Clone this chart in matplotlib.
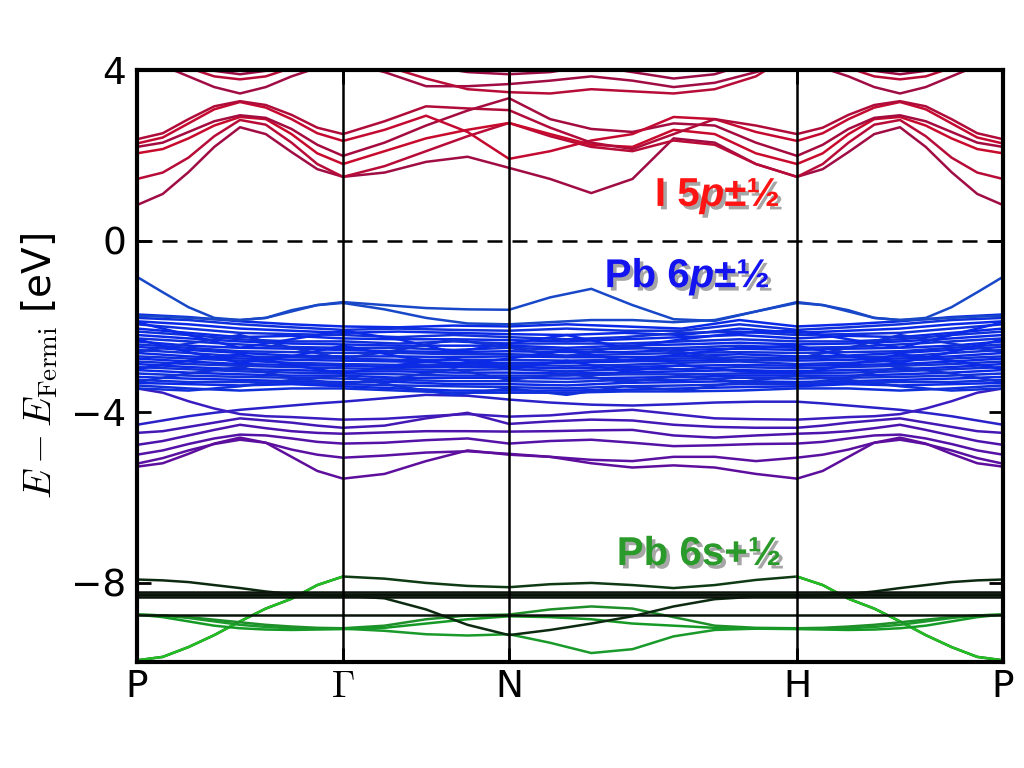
import numpy as np
import matplotlib
matplotlib.use('Agg')
import matplotlib.pyplot as plt
import matplotlib.patheffects as pe

plt.rcParams['mathtext.fontset'] = 'cm'

# high-symmetry points along the path
k_nodes = [0.0, 0.2379, 0.4296, 0.7621, 1.0]
k_labels = ['P', r'$\Gamma$', 'N', 'H', 'P']

# fine bands: P, 7 pts, G | 3 pts | N | 6 pts   (H-P mirrors P-G)
bands_I5p = [
    [0.84, 1.10, 1.61, 2.20, 2.66, 2.50, 2.08, 1.68, 1.50, 1.60, 1.85, 1.97, 1.71, 1.45, 1.12, 1.45, 2.40, 2.30, 1.80],
    [1.45, 1.60, 1.95, 2.45, 2.83, 2.72, 2.30, 1.80, 1.50, 1.75, 2.10, 2.45, 2.76, 2.45, 2.20, 2.10, 2.35, 2.25, 1.80],
    [2.05, 2.15, 2.40, 2.70, 2.90, 2.85, 2.50, 2.05, 1.80, 2.10, 2.40, 2.60, 2.76, 2.50, 2.25, 2.20, 2.60, 2.50, 2.05],
    [2.20, 2.30, 2.55, 2.80, 2.94, 2.88, 2.62, 2.25, 1.99, 2.30, 2.70, 3.05, 3.34, 2.85, 2.62, 2.55, 2.75, 2.70, 2.30],
    [2.28, 2.42, 2.75, 3.08, 3.25, 3.12, 2.85, 2.52, 2.34, 2.60, 2.93, 2.55, 1.92, 2.10, 2.35, 2.50, 2.90, 2.85, 2.55],
    [2.38, 2.52, 2.85, 3.15, 3.27, 3.18, 2.95, 2.65, 2.50, 2.80, 3.15, 3.10, 3.06, 2.65, 2.30, 2.15, 2.50, 2.85, 2.70],
    [4.30, 4.10, 3.85, 3.60, 3.45, 3.60, 3.85, 4.05, 4.20, 3.95, 3.62, 3.62, 3.67, 3.75, 3.85, 3.75, 3.60, 3.70, 3.95],
    [4.60, 4.35, 4.05, 3.85, 3.78, 3.85, 4.05, 4.30, 4.45, 4.10, 3.80, 3.55, 3.48, 3.45, 3.55, 3.50, 3.45, 3.55, 3.85],
    [4.80, 4.55, 4.20, 3.98, 3.90, 3.98, 4.20, 4.50, 4.70, 4.40, 4.10, 3.95, 3.90, 3.95, 4.10, 3.95, 3.80, 3.90, 4.20],
]

bands_Pb6p_top = [
    [-0.84, -1.20, -1.55, -1.80, -1.85, -1.80, -1.62, -1.50, -1.43, -1.50, -1.57, -1.60, -1.61, -1.32, -1.12, -1.50, -1.83, -1.87, -1.65],
    [-1.75, -1.77, -1.80, -1.83, -1.85, -1.80, -1.65, -1.50, -1.45, -1.60, -1.80, -1.93, -1.95, -1.90, -1.85, -1.85, -1.90, -1.85, -1.65],
]

bands_mixed = [
    [-4.30, -4.20, -4.10, -4.02, -3.95, -3.90, -3.85, -3.80, -3.76, -3.68, -3.60, -3.62, -3.71, -3.78, -3.83, -3.85, -3.82, -3.78, -3.76],
    [-3.45, -3.55, -3.75, -3.92, -4.05, -4.10, -4.12, -4.15, -4.18, -4.16, -4.10, -4.05, -4.11, -4.08, -4.00, -3.95, -4.05, -4.15, -4.17],
    [-4.49, -4.45, -4.35, -4.25, -4.15, -4.20, -4.25, -4.32, -4.37, -4.32, -4.15, -4.02, -4.28, -4.22, -4.18, -4.20, -4.30, -4.35, -4.37],
    [-4.77, -4.68, -4.55, -4.42, -4.30, -4.38, -4.45, -4.49, -4.51, -4.48, -4.45, -4.45, -4.46, -4.45, -4.43, -4.42, -4.55, -4.60, -4.55],
    [-5.00, -4.90, -4.75, -4.62, -4.53, -4.55, -4.62, -4.70, -4.74, -4.72, -4.66, -4.62, -4.74, -4.68, -4.65, -4.72, -4.80, -4.78, -4.75],
    [-5.21, -5.08, -4.90, -4.75, -4.65, -4.72, -4.88, -5.00, -5.07, -5.02, -4.95, -4.92, -4.98, -5.05, -5.12, -5.15, -5.05, -5.05, -5.15],
    [-5.28, -5.20, -4.98, -4.74, -4.60, -4.72, -5.05, -5.38, -5.56, -5.45, -5.15, -4.90, -5.00, -5.05, -5.20, -5.30, -5.25, -5.30, -5.45],
]

bands_Pb6s = [
    [-9.81, -9.73, -9.50, -9.22, -8.90, -8.60, -8.37, -8.05, -7.85, -7.90, -8.00, -8.07, -8.10, -8.03, -8.00, -8.05, -8.12, -8.05, -7.93],
    [-8.74, -8.76, -8.82, -8.90, -8.98, -9.03, -9.06, -9.07, -9.07, -9.12, -9.20, -9.23, -9.20, -9.40, -9.64, -9.55, -9.25, -9.10, -9.07],
    [-8.74, -8.76, -8.80, -8.86, -8.92, -8.98, -9.02, -9.05, -9.06, -9.00, -8.85, -8.76, -8.74, -8.62, -8.55, -8.60, -8.80, -9.00, -9.05],
    [-8.74, -8.80, -8.90, -9.00, -9.06, -9.09, -9.10, -9.09, -9.08, -9.05, -8.95, -8.85, -8.78, -8.80, -8.85, -8.95, -9.00, -9.05, -9.07],
]
bands_dark = [
    [-7.92, -7.94, -7.98, -8.05, -8.12, -8.20, -8.26, -8.29, -8.30, -8.36, -8.62, -8.98, -9.22, -9.10, -8.95, -8.78, -8.55, -8.38, -8.32],
]
flat_levels = [-8.21, -8.25, -8.29, -8.33, -8.74]

# coarse bands (dense Pb 6p block): P, 3 pts, G | 2 pts | N | 4 pts
bands_Pb6p = [
    [-1.72, -1.78, -1.88, -1.95, -2.00, -2.02, -1.98, -2.00, -1.95, -2.00, -2.05, -1.85],
    [-1.80, -1.85, -1.95, -2.02, -2.08, -2.05, -2.08, -2.10, -2.05, -2.10, -2.10, -1.95],
    [-1.88, -1.95, -2.05, -2.10, -2.15, -2.12, -2.15, -2.18, -2.20, -2.15, -2.20, -2.05],
    [-1.95, -2.05, -2.15, -2.18, -2.20, -2.25, -2.20, -2.25, -2.30, -2.25, -2.15, -2.12],
    [-2.05, -2.15, -2.25, -2.22, -2.28, -2.30, -2.30, -2.32, -2.35, -2.30, -2.25, -2.20],
    [-2.12, -2.20, -2.30, -2.35, -2.35, -2.40, -2.35, -2.40, -2.40, -2.40, -2.35, -2.30],
    [-2.20, -2.28, -2.35, -2.40, -2.42, -2.45, -2.45, -2.45, -2.50, -2.45, -2.42, -2.38],
    [-2.28, -2.35, -2.42, -2.48, -2.50, -2.50, -2.55, -2.50, -2.55, -2.52, -2.50, -2.45],
    [-2.35, -2.45, -2.50, -2.52, -2.55, -2.58, -2.60, -2.58, -2.60, -2.60, -2.55, -2.52],
    [-2.42, -2.50, -2.58, -2.60, -2.62, -2.62, -2.65, -2.65, -2.68, -2.65, -2.62, -2.60],
    [-2.48, -2.55, -2.62, -2.68, -2.70, -2.70, -2.72, -2.70, -2.72, -2.72, -2.70, -2.65],
    [-2.55, -2.62, -2.70, -2.72, -2.75, -2.78, -2.78, -2.78, -2.80, -2.78, -2.75, -2.72],
    [-2.62, -2.70, -2.75, -2.78, -2.80, -2.82, -2.85, -2.85, -2.85, -2.82, -2.80, -2.78],
    [-2.70, -2.75, -2.80, -2.85, -2.88, -2.90, -2.90, -2.90, -2.92, -2.90, -2.85, -2.82],
    [-2.75, -2.82, -2.88, -2.90, -2.92, -2.95, -2.95, -2.95, -2.98, -2.95, -2.92, -2.90],
    [-2.82, -2.88, -2.92, -2.95, -2.98, -3.00, -3.02, -3.00, -3.05, -3.00, -3.00, -2.95],
    [-2.88, -2.95, -3.00, -3.02, -3.05, -3.05, -3.08, -3.08, -3.10, -3.08, -3.05, -3.02],
    [-2.95, -3.00, -3.05, -3.08, -3.10, -3.12, -3.15, -3.15, -3.15, -3.12, -3.12, -3.10],
    [-3.02, -3.08, -3.12, -3.15, -3.15, -3.20, -3.20, -3.20, -3.22, -3.20, -3.18, -3.15],
    [-3.10, -3.15, -3.18, -3.20, -3.22, -3.25, -3.28, -3.28, -3.30, -3.25, -3.25, -3.20],
    [-3.18, -3.22, -3.25, -3.28, -3.30, -3.30, -3.35, -3.35, -3.38, -3.32, -3.30, -3.28],
    [-3.25, -3.30, -3.30, -3.32, -3.35, -3.38, -3.40, -3.42, -3.45, -3.40, -3.38, -3.35],
    [-3.32, -3.35, -3.38, -3.35, -3.40, -3.45, -3.50, -3.50, -3.50, -3.48, -3.45, -3.42],
    [-3.38, -3.45, -3.50, -3.45, -3.45, -3.50, -3.55, -3.55, -3.55, -3.52, -3.52, -3.50],
    [-1.90, -2.20, -2.50, -2.30, -2.10, -2.30, -2.60, -2.40, -2.20, -2.50, -2.30, -2.15],
    [-2.60, -2.40, -2.20, -2.50, -2.75, -2.55, -2.30, -2.50, -2.70, -2.45, -2.60, -2.80],
    [-3.00, -2.80, -2.65, -2.90, -3.10, -2.90, -2.75, -3.00, -2.80, -3.05, -2.90, -3.05],
    [-3.30, -3.10, -2.95, -3.20, -3.35, -3.20, -3.00, -3.25, -3.10, -3.30, -3.15, -3.30],
    [-2.30, -2.60, -2.85, -2.70, -2.45, -2.70, -2.90, -2.75, -2.55, -2.80, -2.65, -2.50],
    [-3.45, -3.50, -3.40, -3.25, -3.15, -3.40, -3.60, -3.45, -3.60, -3.40, -3.50, -3.30],
]

P, G, N, H, P2 = k_nodes
kx_fine = np.concatenate([np.linspace(P, G, 9), np.linspace(G, N, 5)[1:],
                          np.linspace(N, H, 8)[1:], np.linspace(H, P2, 9)[1:]])
kx_coarse = np.concatenate([np.linspace(P, G, 5), np.linspace(G, N, 4)[1:],
                            np.linspace(N, H, 6)[1:], np.linspace(H, P2, 5)[1:]])


def full_band(v, n_pg):
    # H-P retraces P-G backwards
    return list(v) + list(v[n_pg - 1::-1])


fig = plt.figure(figsize=(10.24, 7.68), dpi=100)
ax = fig.add_axes([0.1338, 0.138, 0.8457, 0.7709])

lw = 1.8
green_cols = ['#22c022', '#1a9a2a', '#1f8f2a', '#169a26']
for i, (v, c) in enumerate(zip(bands_Pb6s, green_cols)):
    y = full_band(v, 9)
    if i == 0:
        # s-band turns dark between G and H, bright on P-G and H-P
        ax.plot(kx_fine, y, color='#0e3a14', lw=lw)
        ax.plot(kx_fine[:9], y[:9], color=c, lw=lw)
        ax.plot(kx_fine[-9:], y[-9:], color=c, lw=lw)
    else:
        ax.plot(kx_fine, y, color=c, lw=lw)
for v in bands_dark:
    ax.plot(kx_fine, full_band(v, 9), color='#0c2a10', lw=lw)
for e in flat_levels:
    ax.plot([P, P2], [e, e], color='#0a140a', lw=lw)

mix_cols = ['#2a22c8', '#3a1cc0', '#4418b4', '#4c14ac', '#5412a6', '#5a10a0', '#5e0e9c']
for v, c in zip(bands_mixed, mix_cols):
    ax.plot(kx_fine, full_band(v, 9), color=c, lw=lw)

for i, v in enumerate(bands_Pb6p):
    c = '#0a2ae8' if i % 2 == 0 else '#1030dc'
    ax.plot(kx_coarse, full_band(v, 5), color=c, lw=lw)
for v in bands_Pb6p_top:
    ax.plot(kx_fine, full_band(v, 9), color='#1848c8', lw=lw)

red_cols = ['#a00c44', '#b80c38', '#c80a2c', '#a40c40', '#c40a30', '#b00c3a',
            '#a00c44', '#b80c38', '#9a0c46']
for v, c in zip(bands_I5p, red_cols):
    ax.plot(kx_fine, full_band(v, 9), color=c, lw=lw)

# high-symmetry verticals and Fermi level
for k in k_nodes[1:-1]:
    ax.axvline(k, color='black', lw=1.8, zorder=5)
ax.axhline(0, color='black', lw=1.8, ls=(0, (6, 4)), zorder=5)

ax.set_xlim(P, P2)
ax.set_ylim(-9.85, 4)
ax.set_xticks(k_nodes)
ax.set_xticklabels(k_labels)
ax.set_yticks([4, 0, -4, -8])
ax.tick_params(axis='both', direction='in', length=10, width=2, labelsize=27,
               right=True, top=True, pad=8)
ax.tick_params(axis='x', pad=5)
for s in ax.spines.values():
    s.set_linewidth(3)
ax.set_ylabel(r'$E-E_\mathrm{Fermi}$ [eV]', fontsize=28, labelpad=8)

# orbital labels with drop shadow
shadow = [pe.withSimplePatchShadow(offset=(2.5, -2.5), shadow_rgbFace='#808080', alpha=0.7)]
lab_font = dict(family='Liberation Sans', weight='bold', fontsize=29)


def orbital_label(x, y, parts, color):
    prev = None
    for txt, italic in parts:
        st = 'italic' if italic else 'normal'
        if prev is None:
            prev = ax.text(x, y, txt, color=color, style=st, ha='left', va='baseline',
                           path_effects=shadow, zorder=6, **lab_font)
        else:
            prev = ax.annotate(txt, xy=(1, 0), xycoords=prev, ha='left', va='bottom',
                               color=color, style=st, path_effects=shadow, zorder=6,
                               **lab_font)


orbital_label(0.598, 0.82, [('I 5', False), ('p', True), ('±½', False)], '#ff1414')
orbital_label(0.540, -1.08, [('Pb 6', False), ('p', True), ('±½', False)], '#1414f0')
orbital_label(0.554, -7.58, [('Pb 6s+½', False)], '#2a9a2a')

fig.savefig('out.png', dpi=100)
